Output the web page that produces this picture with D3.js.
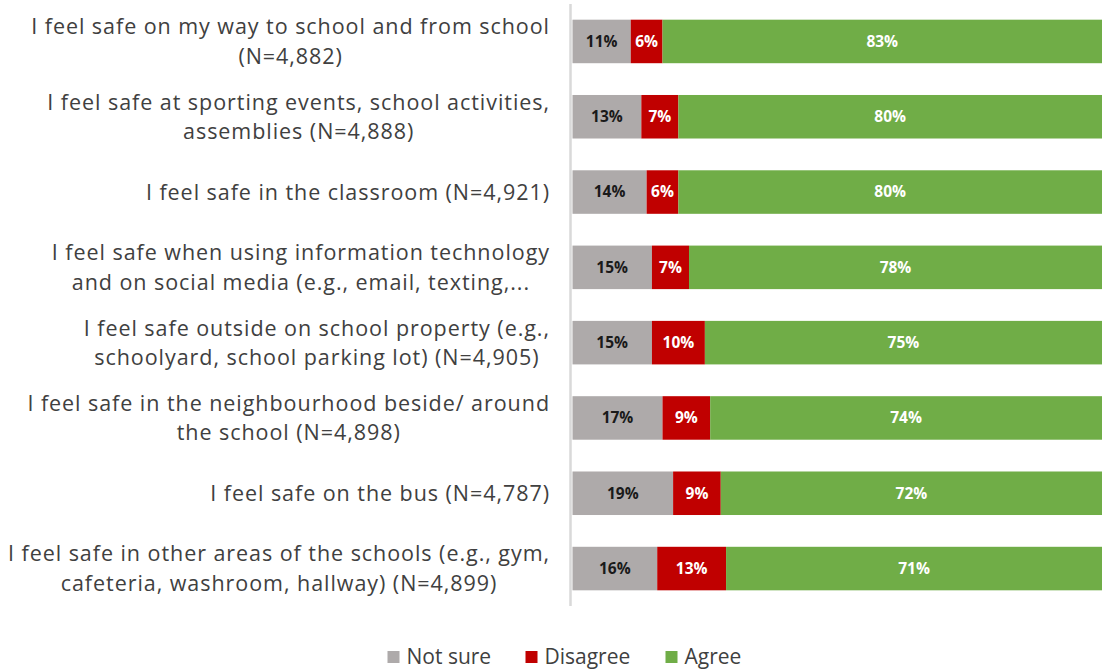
<!DOCTYPE html>
<html>
<head>
<meta charset="utf-8">
<script src="https://cdn.jsdelivr.net/npm/d3@7"></script>
<style>
  html, body { margin: 0; padding: 0; background: #fff; }
  svg { display: block; }
</style>
</head>
<body>
<svg id="chart" width="1102" height="670"></svg>
<script>
// Survey statements (each entry is one wrapped label, line by line)
const categories = [
  ["I feel safe on my way to school and from school", "(N=4,882)"],
  ["I feel safe at sporting events, school activities,", "assemblies (N=4,888)"],
  ["I feel safe in the classroom (N=4,921)"],
  ["I feel safe when using information technology", "and on social media (e.g., email, texting,..."],
  ["I feel safe outside on school property (e.g.,", "schoolyard, school parking lot) (N=4,905)"],
  ["I feel safe in the neighbourhood beside/ around", "the school (N=4,898)"],
  ["I feel safe on the bus (N=4,787)"],
  ["I feel safe in other areas of the schools (e.g., gym,", "cafeteria, washroom, hallway) (N=4,899)"]
];

const seriesNames = ["Not sure", "Disagree", "Agree"];
const notSure  = [11, 13, 14, 15, 15, 17, 19, 16];
const disagree = [6, 7, 6, 7, 10, 9, 9, 13];
const agree    = [83, 80, 80, 78, 75, 74, 72, 71];

const colors = ["#AEAAAA", "#C00000", "#70AD47"];
const labelColors = ["#1a1a1a", "#ffffff", "#ffffff"];

const rows = categories.map((c, i) => ({
  key: i,
  "Not sure": notSure[i],
  "Disagree": disagree[i],
  "Agree": agree[i]
}));

const svg = d3.select("#chart");
const FONT = "'Open Sans', Lato, sans-serif";

const x = d3.scaleLinear().domain([0, 100]).range([572.5, 1102]);
const y = d3.scaleBand()
  .domain(d3.range(categories.length))
  .range([5, 605])
  .paddingInner(0.422)
  .paddingOuter(0.195);

const stack = d3.stack().keys(seriesNames)(rows);

// stacked segments
const layers = svg.append("g").selectAll("g")
  .data(stack)
  .join("g")
  .attr("fill", (d, i) => colors[i]);

layers.selectAll("rect")
  .data(d => d)
  .join("rect")
  .attr("x", d => x(d[0]))
  .attr("width", d => x(d[1]) - x(d[0]))
  .attr("y", (d, i) => y(i))
  .attr("height", y.bandwidth());

// percentage labels centred in each segment
const valueLabels = svg.append("g")
  .attr("font-family", FONT)
  .attr("font-weight", 700)
  .attr("font-size", 15.5);

stack.forEach((layer, si) => {
  valueLabels.selectAll(null)
    .data(layer)
    .join("text")
    .attr("x", d => (x(d[0]) + x(d[1])) / 2)
    .attr("y", (d, i) => y(i) + y.bandwidth() / 2)
    .attr("dy", "0.35em")
    .attr("text-anchor", "middle")
    .attr("fill", labelColors[si])
    .text(d => (d[1] - d[0]) + "%");
});

// category axis line
svg.append("line")
  .attr("x1", 570.5).attr("x2", 570.5)
  .attr("y1", 4).attr("y2", 606)
  .attr("stroke", "#d9d9d9")
  .attr("stroke-width", 2.5);

// category labels: block right aligned to the axis, lines centred in the block
const lineH = 29.3;
const labelRight = 550;
const catLabels = svg.append("g")
  .attr("font-family", FONT)
  .attr("font-size", 21.5)
  .attr("letter-spacing", 0.95)
  .attr("fill", "#404040")
  .attr("text-anchor", "middle");

categories.forEach((lines, i) => {
  const cy = y(i) + y.bandwidth() / 2;
  const g = catLabels.append("g");
  const texts = lines.map((ln, j) =>
    g.append("text")
      .attr("y", cy + (j - (lines.length - 1) / 2) * lineH)
      .attr("dy", "0.35em")
      .text(ln)
  );
  const maxW = d3.max(texts, t => t.node().getComputedTextLength());
  texts.forEach(t => t.attr("x", labelRight - maxW / 2));
});

// legend
const legend = svg.append("g")
  .attr("font-family", FONT)
  .attr("font-size", 21)
  .attr("fill", "#404040");

const legendX = [387.5, 525.5, 665.5];
seriesNames.forEach((name, i) => {
  const g = legend.append("g").attr("transform", `translate(${legendX[i]},657)`);
  g.append("rect")
    .attr("x", 0).attr("y", -6)
    .attr("width", 12).attr("height", 12)
    .attr("fill", colors[i]);
  g.append("text")
    .attr("x", 19)
    .attr("dy", "0.35em")
    .text(name);
});
</script>
</body>
</html>
